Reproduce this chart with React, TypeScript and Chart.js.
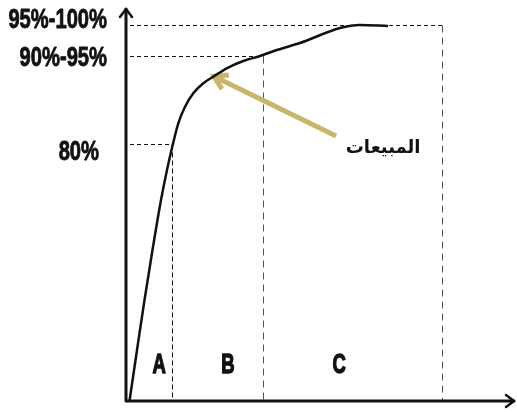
import React, { useEffect, useRef } from "react";
import { Chart, registerables } from "chart.js";

Chart.register(...registerables);

// Curve (cumulative sales) — x: share of items (0-100), y: relative level (0-100)
const curveX = [0.9, 2.83, 4.76, 6.81, 9.0, 10.54, 12.0, 13.44, 15.17, 17.3, 19.87, 22.44, 25.89, 30.15, 34.45, 38.74, 44.73, 55.01, 60.15, 67.35];
const curveY = [0.0, 12.98, 25.7, 38.42, 51.15, 58.78, 65.14, 70.66, 74.89, 78.3, 80.84, 82.52, 84.66, 86.51, 87.79, 89.31, 91.09, 94.91, 95.67, 95.42];

// Level guide lines and their labels
const levelValues = [65.4, 87.8, 95.7];
const levelLabels = ["80%", "90%-95%", "95%-100%"];
// Region boundaries along x (end of A, B, C)
const boundaryX = [11.8, 35.2, 81.2];
// Region labels
const regionLabels = ["A", "B", "C"];
const regionLabelX = [8.5, 26.2, 54.8];
const regionLabelY = 7.1;

// Annotation
const annotationText = "المبيعات";
const arrowTail = { x: 54.0, y: 67.4 };
const arrowHead = { x: 22.6, y: 82.6 };
const annotationPos = { x: 66.1, y: 64.4 };

const FONT_FAMILY = "'Liberation Sans', Arial, sans-serif";

function drawCondensed(ctx: any, text: string, x: number, y: number, sx: number) {
  ctx.save();
  ctx.translate(x, y);
  ctx.scale(sx, 1);
  ctx.strokeText(text, 0, 0);
  ctx.fillText(text, 0, 0);
  ctx.restore();
}

const overlay = {
  id: "overlay",
  beforeDatasetsDraw(chart: any) {
    const { ctx, chartArea, scales } = chart;
    const xs = scales.x;
    const ys = scales.y;
    const x0 = chartArea.left;
    const y0 = chartArea.bottom;
    ctx.save();
    // dashed guides
    ctx.lineWidth = 1;
    levelValues.forEach((v, i) => {
      const py = Math.round(ys.getPixelForValue(v)) + 0.5;
      const px = Math.round(xs.getPixelForValue(boundaryX[i])) + 0.5;
      ctx.strokeStyle = "#111";
      ctx.setLineDash([4, 3]);
      ctx.beginPath();
      ctx.moveTo(x0 + 4, py);
      ctx.lineTo(px, py);
      ctx.stroke();
      ctx.strokeStyle = i === 0 ? "#111" : "#555";
      ctx.setLineDash(i === 0 ? [5, 3] : [7, 5]);
      ctx.beginPath();
      ctx.moveTo(px, py);
      ctx.lineTo(px, y0);
      ctx.stroke();
    });
    ctx.setLineDash([]);

    // axes with arrow heads
    ctx.strokeStyle = "#111";
    ctx.lineWidth = 3;
    ctx.lineCap = "round";
    ctx.lineJoin = "round";
    ctx.beginPath();
    ctx.moveTo(x0, y0);
    ctx.lineTo(x0, chartArea.top + 1);
    ctx.moveTo(x0, y0);
    ctx.lineTo(chartArea.right - 1, y0);
    ctx.stroke();
    ctx.lineWidth = 2.5;
    ctx.beginPath();
    ctx.moveTo(x0 - 6, chartArea.top + 9);
    ctx.lineTo(x0, chartArea.top + 1);
    ctx.lineTo(x0 + 6, chartArea.top + 9);
    ctx.moveTo(chartArea.right - 9, y0 - 6);
    ctx.lineTo(chartArea.right - 1, y0);
    ctx.lineTo(chartArea.right - 9, y0 + 6);
    ctx.stroke();

    // level labels (tall condensed bold)
    ctx.fillStyle = "#111";
    ctx.strokeStyle = "#111";
    ctx.lineWidth = 0.9;
    ctx.lineJoin = "round";
    ctx.font = "bold 28px " + FONT_FAMILY;
    ctx.textAlign = "right";
    ctx.textBaseline = "alphabetic";
    const offs = [16, 10, 3];
    const rights = [x0 - 27, x0 - 19, x0 - 19];
    levelValues.forEach((v, i) => {
      drawCondensed(ctx, levelLabels[i], rights[i], ys.getPixelForValue(v) + offs[i], 0.72);
    });

    // region labels
    ctx.lineWidth = 1.4;
    ctx.font = "bold 28px " + FONT_FAMILY;
    ctx.textAlign = "center";
    regionLabels.forEach((t, i) => {
      drawCondensed(ctx, t, xs.getPixelForValue(regionLabelX[i]), ys.getPixelForValue(regionLabelY), 0.66);
    });

    // annotation arrow
    const tx = xs.getPixelForValue(arrowTail.x);
    const ty = ys.getPixelForValue(arrowTail.y);
    const hx = xs.getPixelForValue(arrowHead.x);
    const hy = ys.getPixelForValue(arrowHead.y);
    const ang = Math.atan2(ty - hy, tx - hx);
    ctx.strokeStyle = "#c8b66c";
    ctx.lineWidth = 5;
    ctx.lineCap = "butt";
    ctx.lineJoin = "miter";
    ctx.beginPath();
    ctx.moveTo(tx, ty);
    ctx.lineTo(hx + 2 * Math.cos(ang), hy + 2 * Math.sin(ang));
    ctx.stroke();
    const wl = 15;
    ctx.beginPath();
    ctx.moveTo(hx + wl * Math.cos(ang - 0.55), hy + wl * Math.sin(ang - 0.55));
    ctx.lineTo(hx, hy);
    ctx.lineTo(hx + wl * Math.cos(ang + 0.55), hy + wl * Math.sin(ang + 0.55));
    ctx.stroke();

    // annotation text
    ctx.fillStyle = "#111";
    ctx.font = "bold 18px 'DejaVu Sans', sans-serif";
    ctx.textAlign = "center";
    ctx.textBaseline = "middle";
    ctx.fillText(annotationText, xs.getPixelForValue(annotationPos.x), ys.getPixelForValue(annotationPos.y));
    ctx.restore();
  },
};

export default function App() {
  const ref = useRef<HTMLCanvasElement>(null);
  useEffect(() => {
    if (!ref.current) return;
    const chart = new Chart(ref.current, {
      type: "line",
      data: {
        datasets: [
          {
            data: curveX.map((x, i) => ({ x, y: curveY[i] })),
            borderColor: "#111",
            borderWidth: 2.5,
            pointRadius: 0,
            cubicInterpolationMode: "monotone",
            fill: false,
          },
        ],
      },
      options: {
        animation: false,
        responsive: true,
        maintainAspectRatio: false,
        layout: { padding: { left: 126, right: 2, top: 8, bottom: 11 } },
        plugins: { legend: { display: false }, tooltip: { enabled: false } },
        scales: {
          x: { type: "linear", min: 0, max: 100, display: false },
          y: { type: "linear", min: 0, max: 100, display: false },
        },
      },
      plugins: [overlay],
    } as any);
    return () => chart.destroy();
  }, []);
  return (
    <div style={{ position: "absolute", left: 0, top: 0, width: 517, height: 412, background: "#fff" }}>
      <canvas ref={ref} />
    </div>
  );
}
